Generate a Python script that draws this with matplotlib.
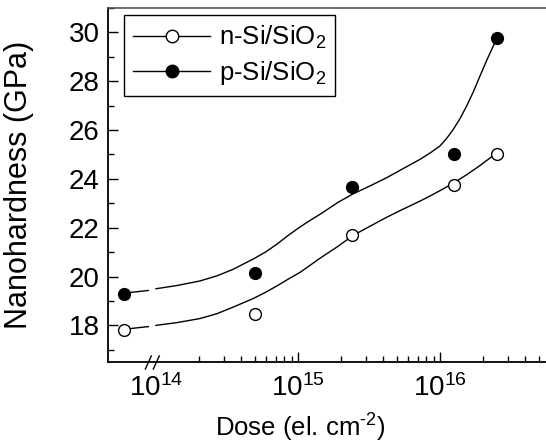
import numpy as np
import matplotlib
matplotlib.use('Agg')
import matplotlib.pyplot as plt
import matplotlib.transforms as mtransforms

plt.rcParams['font.family'] = 'Liberation Sans'
plt.rcParams['mathtext.fontset'] = 'custom'
plt.rcParams['mathtext.rm'] = 'Liberation Sans'
plt.rcParams['mathtext.it'] = 'Liberation Sans:italic'
plt.rcParams['font.size'] = 19

# measured points (first dose sits left of the axis break)
dose = [6.0e13, 5.0e14, 2.4e15, 1.25e16, 2.5e16]
n_hard = [17.80, 18.45, 21.69, 23.74, 25.00]
p_hard = [19.27, 20.13, 23.66, 25.00, 29.76]

# smooth guide curves (log10 of dose)
fit_seg1_log = [13.805, 13.946]
n_fit_seg1 = [17.86, 17.95]
p_fit_seg1 = [19.34, 19.43]
fit_seg2_log = [14.0, 14.155, 14.31, 14.43, 14.544, 14.685, 14.77, 14.85, 14.93,
                15.014, 15.085, 15.155, 15.22, 15.282, 15.389, 15.51, 15.625,
                15.74, 15.859, 15.93, 16.0, 16.047, 16.094, 16.141, 16.188,
                16.235, 16.282, 16.33, 16.387]
n_fit_seg2 = [18.00, 18.12, 18.28, 18.48, 18.75, 19.10, 19.35, 19.61, 19.89,
              20.17, 20.46, 20.75, 21.00, 21.24, 21.69, 22.07, 22.43,
              22.76, 23.09, 23.30, 23.52, 23.67, 23.83, 24.00, 24.17,
              24.36, 24.55, 24.76, 25.00]
p_fit_seg2 = [19.50, 19.64, 19.82, 20.03, 20.30, 20.72, 21.00, 21.32, 21.68,
              22.03, 22.30, 22.55, 22.80, 23.04, 23.39, 23.72, 24.05,
              24.42, 24.80, 25.06, 25.35, 25.66, 26.03, 26.47, 26.99,
              27.57, 28.22, 28.87, 29.59]

fig = plt.figure(figsize=(5.46, 4.45), dpi=100)
ax = fig.add_axes([108 / 546, 83 / 445, 442.5 / 546, 354 / 445])

for seg_log, nf, pf in [(fit_seg1_log, n_fit_seg1, p_fit_seg1),
                        (fit_seg2_log, n_fit_seg2, p_fit_seg2)]:
    xs = 10.0 ** np.array(seg_log)
    ax.plot(xs, nf, color='black', lw=1.0)
    ax.plot(xs, pf, color='black', lw=1.0)

ax.plot(dose, n_hard, 'o', ls='none', ms=8.5, mfc='white', mec='black', mew=1.0)
ax.plot(dose, p_hard, 'o', ls='none', ms=8.5, mfc='black', mec='black', mew=1.0)

# legend proxies: line through marker
h1, = ax.plot([], [], '-o', color='black', lw=1.0, ms=9, mfc='white', mec='black')
h2, = ax.plot([], [], '-o', color='black', lw=1.0, ms=9, mfc='black', mec='black')
leg = ax.legend([h1, h2], ['n-Si/SiO$_2$', 'p-Si/SiO$_2$'],
                loc='upper left', bbox_to_anchor=(124 / 546, 1 - 15 / 445),
                bbox_transform=fig.transFigure, borderaxespad=0,
                handlelength=3.0, handletextpad=0.35, labelspacing=0.3,
                borderpad=0.35, fancybox=False, framealpha=1, fontsize=18.5)
leg.get_frame().set_edgecolor('black')
leg.get_frame().set_linewidth(1.0)

ax.set_xscale('log')
ax.set_xlim(10 ** 13.662, 6e16)
ax.set_ylim(16.5, 31)
ax.set_xticks([1e14, 1e15, 1e16])
minors = [k * 10.0 ** e for e in (14, 15, 16) for k in range(2, 10)]
ax.set_xticks([m for m in minors if m < 6e16], minor=True)
ax.set_xticklabels([], minor=True)
ax.set_yticks(np.arange(18, 31, 2))
ax.set_yticks(np.arange(17, 31.5, 1), minor=True)
ax.tick_params(which='both', direction='in', width=1.0, labelsize=20)
ax.tick_params(which='major', length=7)
ax.tick_params(axis='x', which='major', pad=9)
ax.tick_params(axis='y', which='major', pad=6)
ax.tick_params(which='minor', length=4)
ax.xaxis.get_major_ticks()[0].tick1line.set_visible(False)

for s in ['left', 'bottom']:
    ax.spines[s].set_linewidth(1.3)
ax.spines['top'].set_color('#555555')
ax.spines['top'].set_linewidth(1.2)

ax.set_xlabel('Dose (el. cm$^{\u2010 2}$)', fontsize=18.5)
ax.set_ylabel('Nanohardness (GPa)', fontsize=22)
ax.xaxis.set_label_coords(0.434, -0.14)
ax.yaxis.set_label_coords(-0.167, 0.5)

# axis break marks
brk = mtransforms.blended_transform_factory(ax.transData, ax.transAxes)
for x0 in (13.925, 13.981):
    ax.plot([10 ** x0, 10 ** (x0 + 0.042)], [-0.02, 0.017], color='black',
            lw=1.0, transform=brk, clip_on=False)

fig.savefig('out.png', dpi=100)
